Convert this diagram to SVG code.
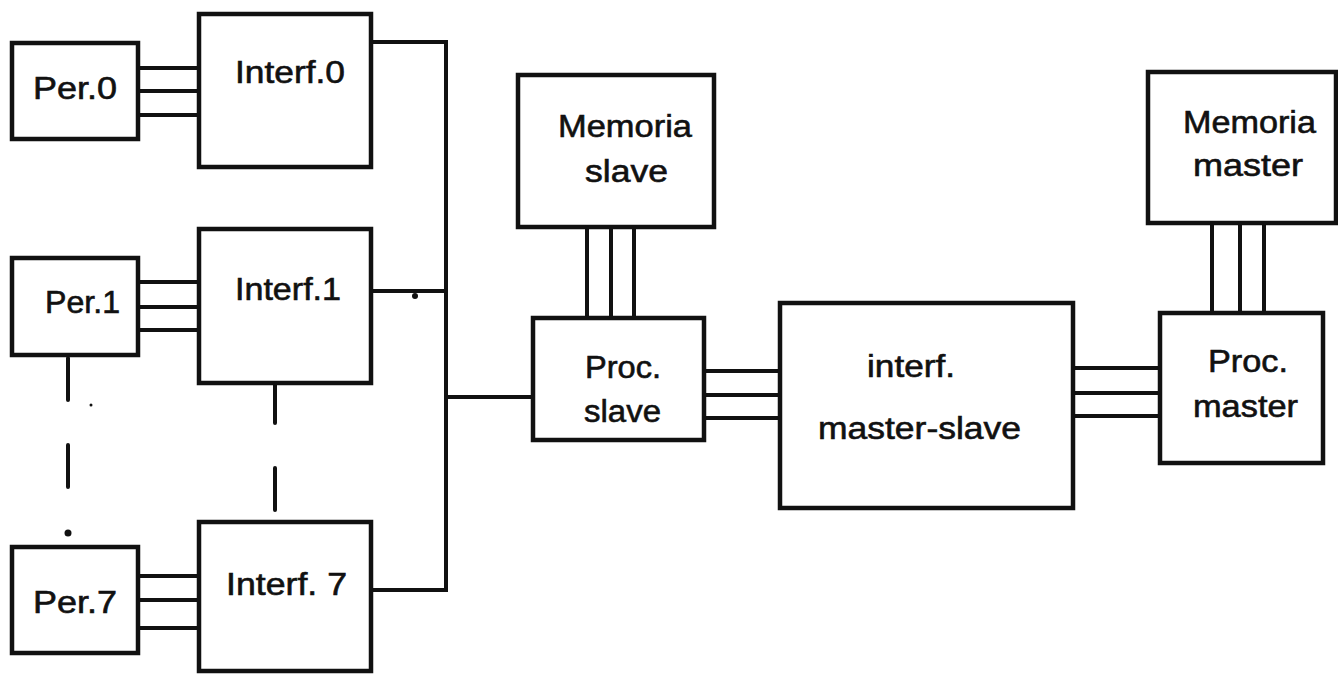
<svg xmlns="http://www.w3.org/2000/svg" width="1338" height="675" viewBox="0 0 1338 675">
<style>
.box{fill:#fff;stroke:#111;stroke-width:4.5}
.ln{fill:none;stroke:#111;stroke-width:4;stroke-linecap:round}
text{font-family:"Liberation Sans",Arial,sans-serif;font-size:31px;fill:#111;stroke:#111;stroke-width:0.6}
</style>
<rect width="1338" height="675" fill="#fff"/>
<g id="connectors">
<path class="ln" d="M138,68H199M138,91H199M138,115H199"/>
<path class="ln" d="M138,282H199M138,307H199M138,330H199"/>
<path class="ln" d="M138,576H199M138,600H199M138,628H199"/>
<path class="ln" d="M371,42H446V590H371"/>
<path class="ln" d="M371,291H446"/>
<path class="ln" d="M446,397H533"/>
<path class="ln" d="M587,227V318M611,227V318M634,227V318"/>
<path class="ln" d="M704,371H780M704,395H780M704,418H780"/>
<path class="ln" d="M1073,368H1160M1073,393H1160M1073,416H1160"/>
<path class="ln" d="M1212,224V313M1240,224V313M1264,224V313"/>
<path class="ln" d="M68,358V400M68,445V487M275,385V423M275,468V510"/>
<circle cx="415" cy="296" r="3" fill="#111"/>
<circle cx="68" cy="533" r="3.5" fill="#111"/>
<circle cx="91" cy="405" r="1.5" fill="#111"/>
</g>
<g id="per0"><rect class="box" x="12" y="43" width="126" height="96"/><text x="33" y="99" textLength="84" lengthAdjust="spacingAndGlyphs">Per.0</text></g>
<g id="interf0"><rect class="box" x="199" y="14" width="172" height="153"/><text x="235" y="83" textLength="110" lengthAdjust="spacingAndGlyphs">Interf.0</text></g>
<g id="per1"><rect class="box" x="12" y="258" width="126" height="97"/><text x="45" y="313" textLength="75" lengthAdjust="spacingAndGlyphs">Per.1</text></g>
<g id="interf1"><rect class="box" x="199" y="229" width="172" height="154"/><text x="235" y="300" textLength="106" lengthAdjust="spacingAndGlyphs">Interf.1</text></g>
<g id="per7"><rect class="box" x="12" y="547" width="126" height="106"/><text x="33" y="613" textLength="84" lengthAdjust="spacingAndGlyphs">Per.7</text></g>
<g id="interf7"><rect class="box" x="199" y="522" width="172" height="149"/><text x="226" y="595" textLength="121" lengthAdjust="spacingAndGlyphs">Interf. 7</text></g>
<g id="memslave"><rect class="box" x="518" y="75" width="196" height="152"/><text x="558" y="137" textLength="134" lengthAdjust="spacingAndGlyphs">Memoria</text><text x="585" y="182" textLength="83" lengthAdjust="spacingAndGlyphs">slave</text></g>
<g id="procslave"><rect class="box" x="533" y="318" width="171" height="122"/><text x="585" y="378" textLength="76" lengthAdjust="spacingAndGlyphs">Proc.</text><text x="584" y="422" textLength="77" lengthAdjust="spacingAndGlyphs">slave</text></g>
<g id="interfms"><rect class="box" x="780" y="303" width="293" height="205"/><text x="867" y="377" textLength="88" lengthAdjust="spacingAndGlyphs">interf.</text><text x="818" y="439" textLength="203" lengthAdjust="spacingAndGlyphs">master-slave</text></g>
<g id="memmaster"><rect class="box" x="1148" y="72" width="188" height="151"/><text x="1183" y="133" textLength="133" lengthAdjust="spacingAndGlyphs">Memoria</text><text x="1193" y="176" textLength="110" lengthAdjust="spacingAndGlyphs">master</text></g>
<g id="procmaster"><rect class="box" x="1160" y="313" width="163" height="150"/><text x="1208" y="372" textLength="80" lengthAdjust="spacingAndGlyphs">Proc.</text><text x="1193" y="417" textLength="105" lengthAdjust="spacingAndGlyphs">master</text></g>
</svg>
